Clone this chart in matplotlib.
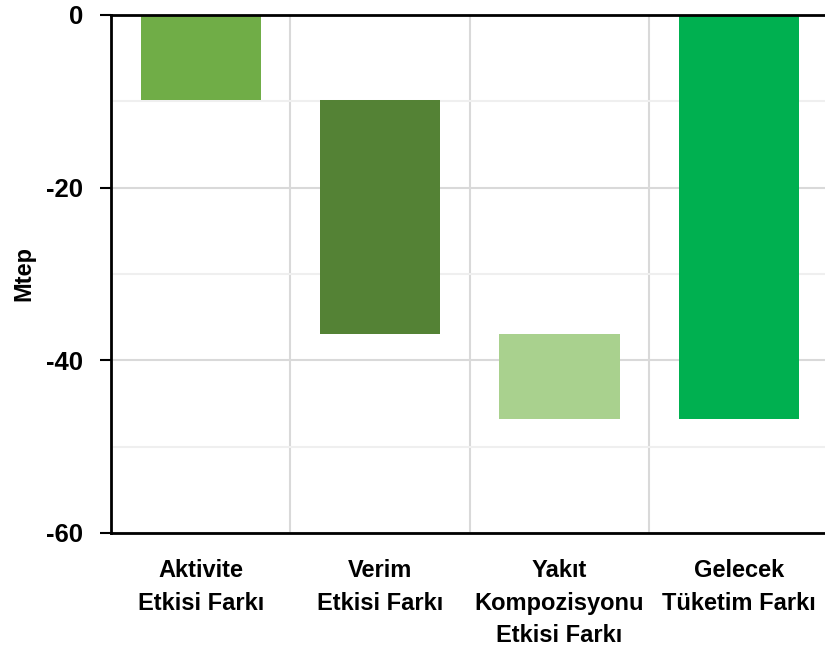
import matplotlib
matplotlib.use("Agg")
import matplotlib.pyplot as plt
from matplotlib.ticker import MultipleLocator

categories = ["Aktivite\nEtkisi Farkı", "Verim\nEtkisi Farkı",
              "Yakıt\nKompozisyonu\nEtkisi Farkı", "Gelecek\nTüketim Farkı"]
step_values = [-9.8, -27.2, -9.8]   # contributions of the three effects (Mtep)
total_value = -46.8                 # resulting future consumption gap (Mtep)
bar_colors = ["#70AD47", "#548235", "#A9D18E", "#00B050"]
y_ticks = [0, -20, -40, -60]
y_label = "Mtep"

plt.rcParams["font.family"] = ["Liberation Sans", "DejaVu Sans"]

fig = plt.figure(figsize=(8.25, 6.46), dpi=100)
ax = fig.add_axes([0.1345, 0.175, 0.870, 0.8018])

# floating bars for the individual effects, then the total from zero
starts = []
running = 0.0
for v in step_values:
    starts.append(running)
    running += v
heights = step_values + [total_value]
bottoms = starts + [0.0]
xs = list(range(len(categories)))
ax.bar(xs, heights, bottom=bottoms, width=0.67, color=bar_colors, zorder=3)

ax.set_xlim(-0.5, len(categories) - 0.5)
ax.set_ylim(-60, 0)
ax.set_yticks(y_ticks)
ax.set_yticklabels([str(t) for t in y_ticks], fontsize=18.5, fontweight="bold")
ax.yaxis.set_minor_locator(MultipleLocator(10))

# category separators as vertical grid lines
for b in [0.5, 1.5, 2.5]:
    ax.axvline(b, color="#d9d9d9", lw=1.5, zorder=1)
ax.grid(axis="y", which="major", color="#d9d9d9", lw=1.5, zorder=1)
ax.grid(axis="y", which="minor", color="#efefef", lw=1.5, zorder=1)

ax.set_xticks(xs)
ax.set_xticklabels(categories, fontsize=17, fontweight="bold", linespacing=1.52)
ax.tick_params(axis="x", length=0, pad=19)
ax.tick_params(axis="y", which="major", length=8, width=1.5, pad=12, color="black")
ax.tick_params(axis="y", which="minor", length=0)

ax.set_ylabel(y_label, fontsize=17, fontweight="bold", labelpad=8)

for side in ["left", "top", "bottom"]:
    ax.spines[side].set_color("black")
    ax.spines[side].set_linewidth(2)
ax.spines["right"].set_visible(False)
ax.spines["top"].set_zorder(4)

fig.savefig("out.png", dpi=100)
